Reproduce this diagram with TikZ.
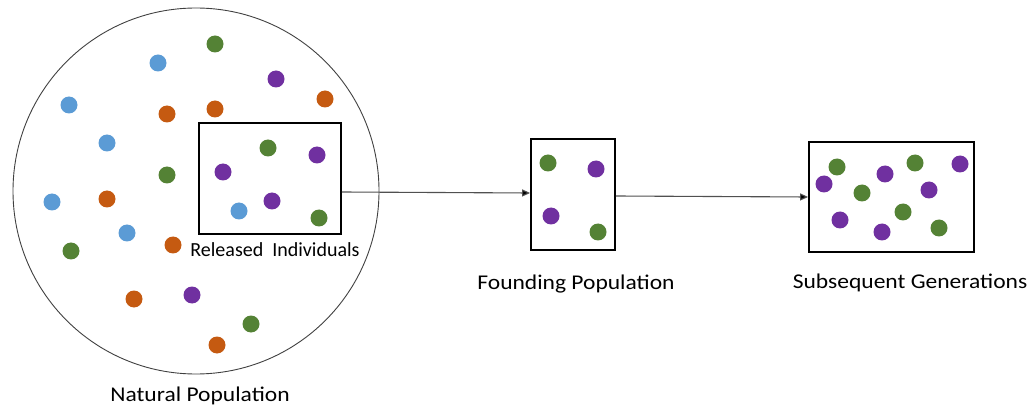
\documentclass[tikz,border=0pt]{standalone}
\usepackage{fontspec}
\setmainfont{Carlito}
\newfontfamily\widecap[FakeStretch=1.12]{Carlito}
\usetikzlibrary{arrows.meta}
\definecolor{dotblue}{HTML}{5B9BD5}
\definecolor{dotorange}{HTML}{C55A11}
\definecolor{dotgreen}{HTML}{548235}
\definecolor{dotpurple}{HTML}{7030A0}
\definecolor{rimgray}{HTML}{404040}
\definecolor{linegray}{HTML}{505050}
\begin{document}
\begin{tikzpicture}[x=1pt,y=-1pt,
  dot/.style={fill=#1,draw=none},
  groupbox/.style={draw=black,line width=1.8pt,inner sep=0pt,minimum width=#1},
  caption/.style={anchor=base,inner sep=0pt,font=\widecap\fontsize{21}{25}\selectfont},
  boxcaption/.style={anchor=base,inner sep=0pt,font=\fontsize{20}{24}\selectfont},
  flow/.style={draw=linegray,line width=1.1pt,-{Triangle[length=8pt,width=7pt,fill=black]}}]
\useasboundingbox (0,0) rectangle (1031,406);

% natural population
\node[circle,draw=rimgray,line width=0.9pt,minimum size=366pt,inner sep=0pt] (nat) at (196,191) {};
\node[caption] (natlabel) at (200,401) {Natural Population};

% dots scattered across the natural population
\foreach \x/\y/\c in {
  215/44/dotgreen, 158/63/dotblue, 276/79/dotpurple, 325/99/dotorange,
  69/105/dotblue, 167/114/dotorange, 215/109/dotorange, 107/143/dotblue,
  167/175/dotgreen, 52/202/dotblue, 107/199/dotorange, 127/233/dotblue,
  71/251/dotgreen, 173/245/dotorange, 134/299/dotorange, 192/295/dotpurple,
  251/324/dotgreen, 217/345/dotorange}
  \fill[dot=\c] (\x,\y) circle[radius=8.5];

% released individuals
\node[groupbox=142pt,minimum height=111pt] (rel) at (270,178.5) {};
\node[boxcaption] (rellabel) at (275,257) {Released\hspace{0.45em}Individuals};
\foreach \x/\y/\c in {
  268/148/dotgreen, 317/155/dotpurple, 223/172/dotpurple,
  239/211/dotblue, 272/201/dotpurple, 319/218/dotgreen}
  \fill[dot=\c] (\x,\y) circle[radius=8.5];

% founding population
\node[groupbox=84pt,minimum height=111pt] (found) at (573,194.5) {};
\node[caption] (foundlabel) at (576,290) {Founding Population};
\foreach \x/\y/\c in {
  548/163/dotgreen, 596/169/dotpurple, 551/216/dotpurple, 598/232/dotgreen}
  \fill[dot=\c] (\x,\y) circle[radius=8.5];

% subsequent generations
\node[groupbox=165pt,minimum height=110pt] (sub) at (891.5,197) {};
\node[caption] (sublabel) at (910,288) {Subsequent Generations};
\foreach \x/\y/\c in {
  837/167/dotgreen, 824/184/dotpurple, 885/174/dotpurple, 915/163/dotgreen,
  960/164/dotpurple, 862/193/dotgreen, 929/190/dotpurple, 840/220/dotpurple,
  903/212/dotgreen, 882/232/dotpurple, 939/228/dotgreen}
  \fill[dot=\c] (\x,\y) circle[radius=8.5];

% flow between stages
\draw[flow] ([yshift=-13.5pt]rel.east) -- ([yshift=1.5pt]found.west);
\draw[flow] ([yshift=-1.5pt]found.east) -- (sub.west);
\end{tikzpicture}
\end{document}
